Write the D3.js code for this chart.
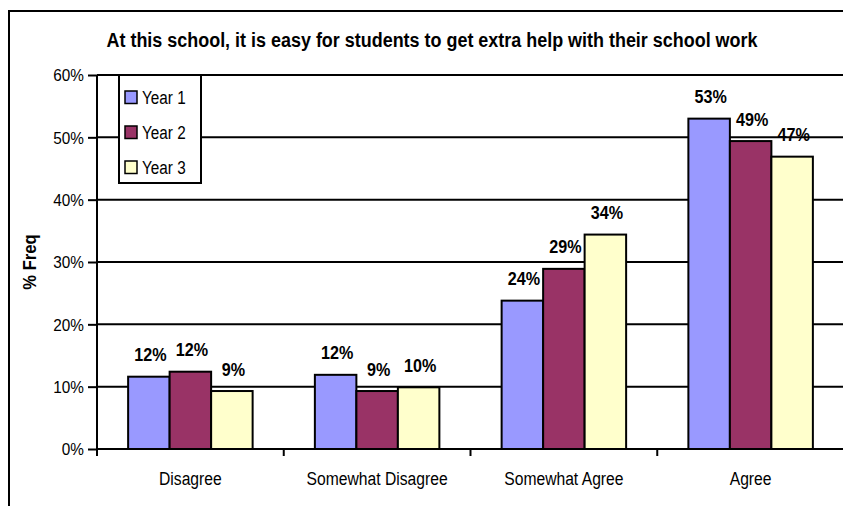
<!DOCTYPE html>
<html>
<head>
<meta charset="utf-8">
<script src="https://cdn.jsdelivr.net/npm/d3@7/dist/d3.min.js"></script>
<style>
  html, body { margin: 0; padding: 0; background: #fff; }
  svg { display: block; font-family: "Liberation Sans", Arial, sans-serif; }
</style>
</head>
<body>
<svg id="chart" width="843" height="506"></svg>
<script>
// Survey responses, percent of students per answer
const title = "At this school, it is easy for students to get extra help with their school work";
const categories = ["Disagree", "Somewhat Disagree", "Somewhat Agree", "Agree"];
const seriesNames = ["Year 1", "Year 2", "Year 3"];
const year1 = [11.6, 11.9, 23.8, 53.0];
const year2 = [12.4, 9.3, 28.9, 49.4];
const year3 = [9.3, 9.9, 34.4, 46.9];
const yTicks = [0, 10, 20, 30, 40, 50, 60];
const colors = ["#9999FF", "#993366", "#FFFFCC"];

const seriesValues = [year1, year2, year3];
const rows = categories.map((c, i) => ({
  category: c,
  values: seriesNames.map((s, j) => ({ series: s, value: seriesValues[j][i], idx: j }))
}));

// squeeze text horizontally to a fraction of its natural width
function condense(sel, k) {
  sel.each(function () {
    const len = this.getComputedTextLength();
    d3.select(this)
      .attr("textLength", len * k)
      .attr("lengthAdjust", "spacingAndGlyphs");
  });
}

const svg = d3.select("#chart");
const plot = { left: 97, right: 844, top: 75, bottom: 449 };

// outer chart frame
svg.append("rect")
  .attr("x", 9).attr("y", 11)
  .attr("width", 900).attr("height", 600)
  .attr("fill", "#fff").attr("stroke", "#000").attr("stroke-width", 2);

const x0 = d3.scaleBand().domain(categories).range([plot.left, plot.right]).padding(0);
const x1 = d3.scaleBand().domain(seriesNames).range([0, x0.bandwidth()])
  .paddingInner(0).paddingOuter(0.75);
const y = d3.scaleLinear().domain([0, 60]).range([plot.bottom, plot.top]);

// horizontal gridlines
svg.append("g").selectAll("line")
  .data(yTicks.filter(t => t > 0))
  .join("line")
  .attr("x1", plot.left).attr("x2", plot.right)
  .attr("y1", d => y(d)).attr("y2", d => y(d))
  .attr("stroke", "#000").attr("stroke-width", 2);

// y axis
const yAxis = svg.append("g")
  .attr("transform", `translate(${plot.left},0)`)
  .call(d3.axisLeft(y).tickValues(yTicks).tickFormat(d => d + "%").tickSize(9).tickPadding(4));
yAxis.select(".domain").attr("stroke", "#000").attr("stroke-width", 2).attr("d", `M0,${plot.top}V${plot.bottom}`);
yAxis.selectAll(".tick line").attr("stroke", "#000").attr("stroke-width", 2);
yAxis.selectAll(".tick text")
  .attr("font-size", 16.5).attr("fill", "#000")
  .attr("dy", "0.35em")
  .call(condense, 0.93);

// x axis with ticks between categories
const xAxis = svg.append("g").attr("transform", `translate(0,${plot.bottom})`);
xAxis.append("line")
  .attr("x1", plot.left).attr("x2", plot.right)
  .attr("stroke", "#000").attr("stroke-width", 2);
xAxis.selectAll(".sep")
  .data(categories.map(c => x0(c)).concat([plot.right]))
  .join("line")
  .attr("class", "sep")
  .attr("x1", d => d).attr("x2", d => d)
  .attr("y1", 0).attr("y2", 7)
  .attr("stroke", "#000").attr("stroke-width", 2);
xAxis.selectAll(".cat")
  .data(categories)
  .join("text")
  .attr("class", "cat")
  .attr("x", d => x0(d) + x0.bandwidth() / 2)
  .attr("y", 36)
  .attr("text-anchor", "middle")
  .attr("font-size", 18)
  .text(d => d)
  .call(condense, 0.87);

// bars
const groups = svg.append("g").selectAll("g")
  .data(rows)
  .join("g")
  .attr("transform", d => `translate(${x0(d.category)},0)`);

groups.selectAll("rect")
  .data(d => d.values)
  .join("rect")
  .attr("x", d => x1(d.series))
  .attr("y", d => y(d.value))
  .attr("width", x1.bandwidth())
  .attr("height", d => y(0) - y(d.value))
  .attr("fill", d => colors[d.idx])
  .attr("stroke", "#000").attr("stroke-width", 2);

// value labels above bars
groups.selectAll("text")
  .data(d => d.values)
  .join("text")
  .attr("x", d => x1(d.series) + x1.bandwidth() / 2 + 1.5)
  .attr("y", d => y(d.value) - 15.5)
  .attr("text-anchor", "middle")
  .attr("font-size", 19)
  .attr("font-weight", "bold")
  .text(d => Math.round(d.value) + "%")
  .call(condense, 0.85);

// title
svg.append("text")
  .attr("x", 432).attr("y", 47)
  .attr("text-anchor", "middle")
  .attr("font-size", 19.5)
  .attr("font-weight", "bold")
  .attr("textLength", 651)
  .attr("lengthAdjust", "spacingAndGlyphs")
  .text(title);

// y axis title
svg.append("text")
  .attr("transform", "translate(36,262) rotate(-90)")
  .attr("text-anchor", "middle")
  .attr("font-size", 17.5)
  .attr("font-weight", "bold")
  .text("% Freq")
  .call(condense, 0.95);

// legend
const legend = svg.append("g").attr("transform", "translate(119,75)");
legend.append("rect")
  .attr("width", 82).attr("height", 108)
  .attr("fill", "#fff").attr("stroke", "#000").attr("stroke-width", 2);
const items = legend.selectAll("g.item")
  .data(seriesNames)
  .join("g")
  .attr("class", "item")
  .attr("transform", (d, i) => `translate(6,${16 + i * 35})`);
items.append("rect")
  .attr("width", 12).attr("height", 12.5)
  .attr("fill", (d, i) => colors[i])
  .attr("stroke", "#000").attr("stroke-width", 1.5);
items.append("text")
  .attr("x", 17).attr("y", 13)
  .attr("font-size", 18)
  .text(d => d)
  .call(condense, 0.85);
</script>
</body>
</html>
